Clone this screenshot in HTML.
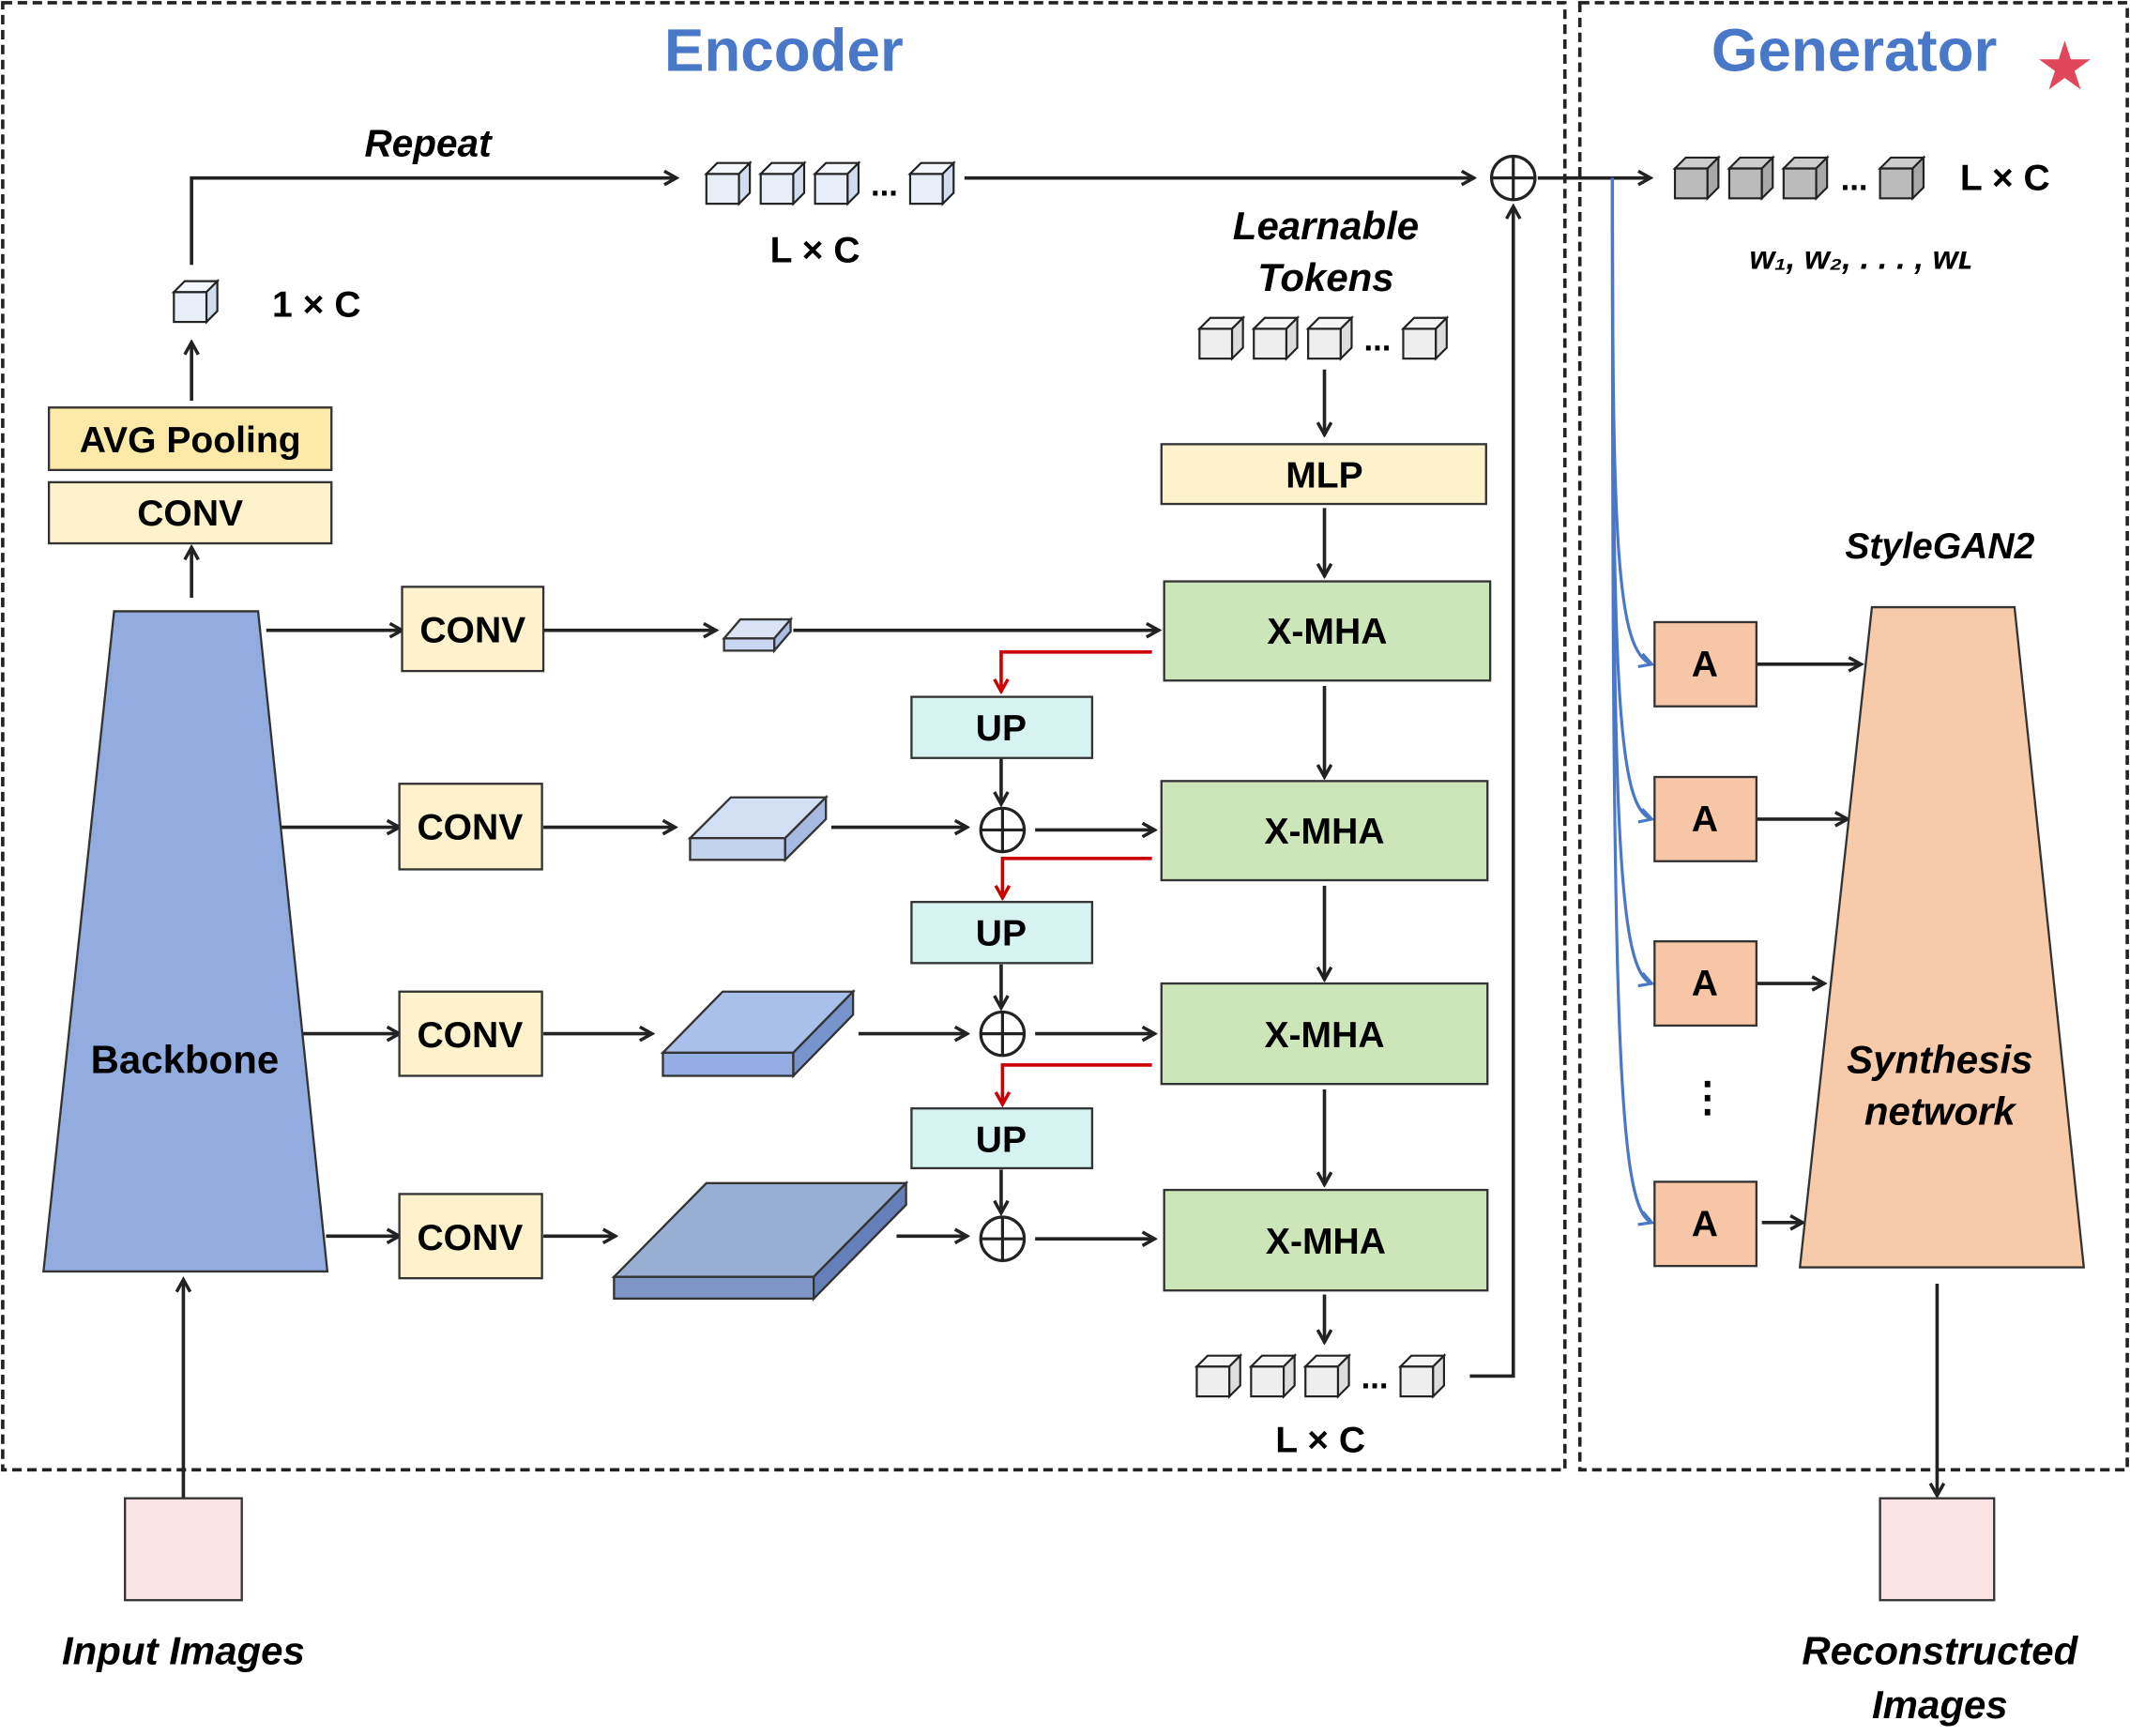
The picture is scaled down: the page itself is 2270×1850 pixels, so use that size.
<!DOCTYPE html>
<html><head><meta charset="utf-8"><style>html,body{margin:0;padding:0;background:#fff}svg{display:block}</style></head>
<body>
<svg width="2270" height="1850" viewBox="0 0 1568 1278" preserveAspectRatio="none" xmlns="http://www.w3.org/2000/svg" font-family="Liberation Sans, sans-serif" font-weight="bold">
<defs>
<marker id="a" markerWidth="12" markerHeight="12" refX="10" refY="6" orient="auto" markerUnits="userSpaceOnUse"><path d="M1,1 L10,6 L1,11" fill="none" stroke="#222" stroke-width="2.4"/></marker>
<marker id="r" markerWidth="12" markerHeight="12" refX="10" refY="6" orient="auto" markerUnits="userSpaceOnUse"><path d="M1,1 L10,6 L1,11" fill="none" stroke="#c00" stroke-width="2.4"/></marker>
<marker id="b" markerWidth="12" markerHeight="12" refX="10" refY="6" orient="auto" markerUnits="userSpaceOnUse"><path d="M1,1 L10,6 L1,11" fill="none" stroke="#4a78c8" stroke-width="2.2"/></marker>
<g id="cl"><rect x="0" y="8" width="24" height="22" fill="#e8eef8" stroke="#222" stroke-width="1.5"/><path d="M0,8 L8,0 L32,0 L24,8 Z" fill="#f4f7fc" stroke="#222" stroke-width="1.5"/><path d="M24,8 L32,0 L32,22 L24,30 Z" fill="#d0dcf0" stroke="#222" stroke-width="1.5"/></g>
<g id="cw"><rect x="0" y="8" width="24" height="22" fill="#eee" stroke="#222" stroke-width="1.5"/><path d="M0,8 L8,0 L32,0 L24,8 Z" fill="#f6f6f6" stroke="#222" stroke-width="1.5"/><path d="M24,8 L32,0 L32,22 L24,30 Z" fill="#ddd" stroke="#222" stroke-width="1.5"/></g>
<g id="cg"><rect x="0" y="8" width="24" height="22" fill="#bbb" stroke="#222" stroke-width="1.5"/><path d="M0,8 L8,0 L32,0 L24,8 Z" fill="#ccc" stroke="#222" stroke-width="1.5"/><path d="M24,8 L32,0 L32,22 L24,30 Z" fill="#a8a8a8" stroke="#222" stroke-width="1.5"/></g>
<g id="op"><circle r="16" fill="#fff" stroke="#222" stroke-width="2.2"/><path d="M-16,0 H16 M0,-16 V16" stroke="#222" stroke-width="2.2"/></g>
</defs>
<g fill="none" stroke="#222" stroke-width="2.5" stroke-dasharray="7,4">
<rect x="2" y="2" width="1150" height="1080"/><rect x="1163" y="2" width="403" height="1080"/></g>
<text x="577" y="52" font-size="44" fill="#4a78c8" text-anchor="middle">Encoder</text>
<text x="1365" y="52" font-size="44" fill="#4a78c8" text-anchor="middle">Generator</text>
<text x="1520" y="64" font-size="44" fill="#e0475a" text-anchor="middle">★</text>
<g stroke="#222" stroke-width="2.5" fill="none">
<path d="M141,195 V131 H498" marker-end="url(#a)"/>
<path d="M710,131 H1085" marker-end="url(#a)"/>
<path d="M1132,131 H1215" marker-end="url(#a)"/>
<path d="M141,295 V252" marker-end="url(#a)"/>
<path d="M141,440 V403" marker-end="url(#a)"/>
<path d="M135,1103 V942" marker-end="url(#a)"/>
<path d="M196,464 H296" marker-end="url(#a)"/>
<path d="M206,609 H294" marker-end="url(#a)"/>
<path d="M222,761 H294" marker-end="url(#a)"/>
<path d="M240,910 H294" marker-end="url(#a)"/>
<path d="M400,464 H527" marker-end="url(#a)"/>
<path d="M584,464 H853" marker-end="url(#a)"/>
<path d="M400,609 H497" marker-end="url(#a)"/>
<path d="M612,609 H712" marker-end="url(#a)"/>
<path d="M400,761 H480" marker-end="url(#a)"/>
<path d="M632,761 H712" marker-end="url(#a)"/>
<path d="M400,910 H453" marker-end="url(#a)"/>
<path d="M660,910 H712" marker-end="url(#a)"/>
<path d="M762,611 H850" marker-end="url(#a)"/>
<path d="M762,761 H850" marker-end="url(#a)"/>
<path d="M762,912 H850" marker-end="url(#a)"/>
<path d="M737,558 V592" marker-end="url(#a)"/>
<path d="M737,710 V742" marker-end="url(#a)"/>
<path d="M737,861 V893" marker-end="url(#a)"/>
<path d="M975,272 V320" marker-end="url(#a)"/>
<path d="M975,374 V424" marker-end="url(#a)"/>
<path d="M975,505 V572" marker-end="url(#a)"/>
<path d="M975,652 V721" marker-end="url(#a)"/>
<path d="M975,802 V872" marker-end="url(#a)"/>
<path d="M975,953 V988" marker-end="url(#a)"/>
<path d="M1082,1013 H1114 V152" marker-end="url(#a)"/>
<path d="M1293,489 H1370" marker-end="url(#a)"/>
<path d="M1293,603 H1360" marker-end="url(#a)"/>
<path d="M1293,724 H1343" marker-end="url(#a)"/>
<path d="M1297,900 H1327" marker-end="url(#a)"/>
<path d="M1426,945 V1101" marker-end="url(#a)"/>
</g>
<g stroke="#c00" stroke-width="2.5" fill="none">
<path d="M848,480 H737 V509" marker-end="url(#r)"/>
<path d="M848,632 H738 V661" marker-end="url(#r)"/>
<path d="M848,784 H738 V813" marker-end="url(#r)"/>
</g>
<g stroke="#4a78c8" stroke-width="2.2" fill="none">
<path d="M1187,131 C1187,400 1190,480 1216,489" marker-end="url(#b)"/>
<path d="M1187,131 C1187,500 1190,595 1216,603" marker-end="url(#b)"/>
<path d="M1187,131 C1187,600 1190,715 1216,724" marker-end="url(#b)"/>
<path d="M1187,131 C1187,750 1190,890 1216,900" marker-end="url(#b)"/>
</g>
<use href="#op" x="1114" y="131"/><use href="#op" x="738" y="611"/><use href="#op" x="738" y="761"/><use href="#op" x="738" y="912"/>
<use href="#cl" x="520" y="120"/><use href="#cl" x="560" y="120"/><use href="#cl" x="600" y="120"/><use href="#cl" x="670" y="120"/>
<text x="651" y="144" font-size="24" text-anchor="middle">...</text>
<use href="#cl" x="128" y="207"/>
<use href="#cw" x="883" y="234"/><use href="#cw" x="923" y="234"/><use href="#cw" x="963" y="234"/><use href="#cw" x="1033" y="234"/>
<text x="1014" y="258" font-size="24" text-anchor="middle">...</text>
<use href="#cw" x="881" y="998"/><use href="#cw" x="921" y="998"/><use href="#cw" x="961" y="998"/><use href="#cw" x="1031" y="998"/>
<text x="1012" y="1022" font-size="24" text-anchor="middle">...</text>
<use href="#cg" x="1233" y="116"/><use href="#cg" x="1273" y="116"/><use href="#cg" x="1313" y="116"/><use href="#cg" x="1384" y="116"/>
<text x="1365" y="140" font-size="24" text-anchor="middle">...</text>
<g font-size="27" text-anchor="middle">
<text x="315" y="115" font-style="italic" font-size="28">Repeat</text>
<text x="600" y="193">L × C</text>
<text x="233" y="233">1 × C</text>
<text x="1476" y="140">L × C</text>
<text x="972" y="1069">L × C</text>
<text x="976" y="176" font-style="italic" font-size="29">Learnable</text>
<text x="976" y="214" font-style="italic" font-size="29">Tokens</text>
<text x="1428" y="411" font-style="italic">StyleGAN2</text>
<text x="135" y="1225" font-style="italic" font-size="29">Input Images</text>
<text x="1428" y="1225" font-style="italic" font-size="29">Reconstructed</text>
<text x="1428" y="1265" font-style="italic" font-size="29">Images</text>
<text x="1370" y="198" font-style="italic" font-size="24">w₁, w₂, . . . , wʟ</text>
</g>
<g stroke="#333" stroke-width="1.6">
<rect x="36" y="300" width="208" height="46" fill="#fde9a8"/>
<rect x="36" y="355" width="208" height="45" fill="#fdf2cc"/>
<polygon points="84,450 190,450 241,936 32,936" fill="#92acdf"/>
<rect x="92" y="1103" width="86" height="75" fill="#fbe3e6"/>
<rect x="1384" y="1103" width="84" height="75" fill="#fbe3e6"/>
<rect x="296" y="432" width="104" height="62" fill="#fdf2cc"/>
<rect x="294" y="577" width="105" height="63" fill="#fdf2cc"/>
<rect x="294" y="730" width="105" height="62" fill="#fdf2cc"/>
<rect x="294" y="879" width="105" height="62" fill="#fdf2cc"/>
<rect x="855" y="327" width="239" height="44" fill="#fdf2cc"/>
<rect x="857" y="428" width="240" height="73" fill="#cde6b9"/>
<rect x="855" y="575" width="240" height="73" fill="#cde6b9"/>
<rect x="855" y="724" width="240" height="74" fill="#cde6b9"/>
<rect x="857" y="876" width="238" height="74" fill="#cde6b9"/>
<rect x="671" y="513" width="133" height="45" fill="#d6f3f1"/>
<rect x="671" y="664" width="133" height="45" fill="#d6f3f1"/>
<rect x="671" y="816" width="133" height="44" fill="#d6f3f1"/>
<rect x="1218" y="458" width="75" height="62" fill="#f7c6a6"/>
<rect x="1218" y="572" width="75" height="62" fill="#f7c6a6"/>
<rect x="1218" y="693" width="75" height="62" fill="#f7c6a6"/>
<rect x="1218" y="870" width="75" height="62" fill="#f7c6a6"/>
<polygon points="1378,447 1483,447 1534,933 1325,933" fill="#f7cba9"/>
<polygon points="533,470 545,456 582,456 570,470" fill="#dbe4f5"/><polygon points="533,470 570,470 570,479 533,479" fill="#c8d6f0"/><polygon points="570,470 582,456 582,465 570,479" fill="#a9bde3"/>
<polygon points="508,617 538,587 608,587 578,617" fill="#d2def4"/><rect x="508" y="617" width="70" height="16" fill="#c2d2ef"/><polygon points="578,617 608,587 608,603 578,633" fill="#a7bbe2"/>
<polygon points="488,775 532,730 628,730 584,775" fill="#a9c0ea"/><rect x="488" y="775" width="96" height="17" fill="#94aee3"/><polygon points="584,775 628,730 628,747 584,792" fill="#7894cc"/>
<polygon points="452,940 520,871 667,871 599,940" fill="#98aed3"/><rect x="452" y="940" width="147" height="16" fill="#7d96c7"/><polygon points="599,940 667,871 667,887 599,956" fill="#6580b8"/>
</g>
<g font-size="27" text-anchor="middle">
<text x="140" y="333">AVG Pooling</text>
<text x="140" y="387">CONV</text>
<text x="136" y="790" font-size="29">Backbone</text>
<text x="348" y="473">CONV</text>
<text x="346" y="618">CONV</text>
<text x="346" y="771">CONV</text>
<text x="346" y="920">CONV</text>
<text x="975" y="359">MLP</text>
<text x="977" y="474">X-MHA</text>
<text x="975" y="621">X-MHA</text>
<text x="975" y="771">X-MHA</text>
<text x="976" y="923">X-MHA</text>
<text x="737" y="545">UP</text>
<text x="737" y="696">UP</text>
<text x="737" y="848">UP</text>
<text x="1255" y="498">A</text>
<text x="1255" y="612">A</text>
<text x="1255" y="733">A</text>
<text x="1255" y="910">A</text>
<text x="1257" y="818" font-size="30">⋮</text>
<text x="1428" y="790" font-style="italic" font-size="29">Synthesis</text>
<text x="1428" y="828" font-style="italic" font-size="29">network</text>
</g>
</svg>
</body></html>
